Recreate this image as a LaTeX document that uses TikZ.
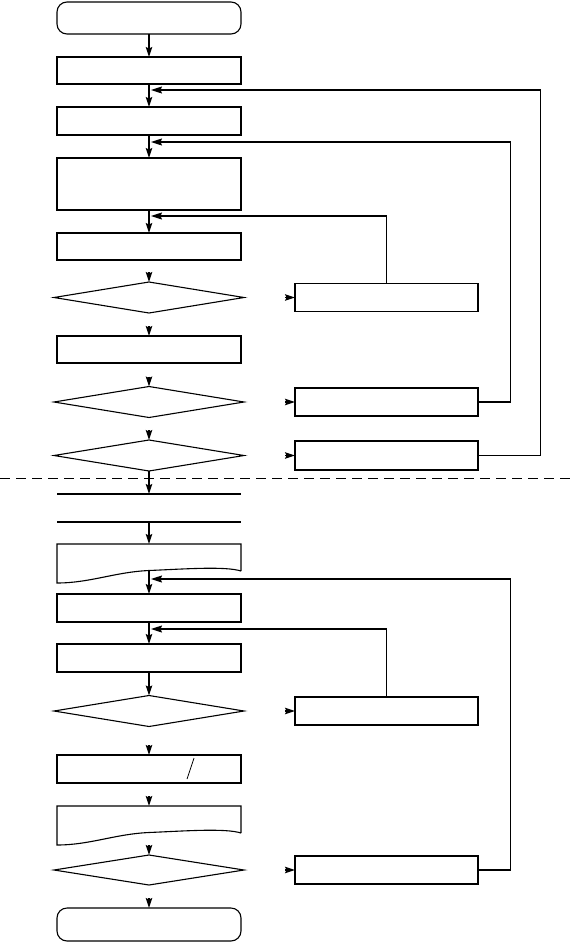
\documentclass[tikz,border=0pt]{standalone}
\usetikzlibrary{shapes.geometric,arrows.meta}
\begin{document}
\begin{tikzpicture}[x=1pt,y=-1pt,
  box/.style={draw,line width=1.1pt,rectangle,minimum width=184pt,inner sep=0pt,outer sep=0pt},
  rbox/.style={draw,line width=1.1pt,rectangle,minimum width=183pt,minimum height=28pt,inner sep=0pt,outer sep=0pt},
  term/.style={box,rounded corners=10pt},
  dia/.style={diamond,draw,line width=1.1pt,minimum width=190pt,minimum height=31pt,inner sep=0pt,outer sep=0pt},
  ghost/.style={rectangle,draw=none,minimum width=184pt,inner sep=0pt,outer sep=0pt},
  tip/.style={-{Stealth[length=10pt,width=6.5pt,inset=1.5pt]}},
  bigtip/.style={-{Stealth[length=11pt,width=7pt,inset=1.5pt]}},
  conn/.style={tip,line width=1.1pt},
  tiponly/.style={tip,line width=1.1pt},
  fb/.style={bigtip,line width=1.2pt},
  shapeline/.style={line width=1.1pt},
  sep/.style={line width=1pt,dash pattern=on 10pt off 6pt}]
\useasboundingbox (0,0) rectangle (570,943);

% main column
\node[term,minimum height=32pt] (start) at (149,18) {};
\node[box,minimum height=27pt] (b1) at (149,70.5) {};
\node[box,minimum height=28pt] (b2) at (149,121) {};
\node[box,minimum height=52pt] (b3) at (149,184) {};
\node[box,minimum height=27pt] (b4) at (149,246.5) {};
\node[dia] (d1) at (149,297.5) {};
\node[box,minimum height=27pt] (b5) at (149,349.5) {};
\node[dia] (d2) at (149,402) {};
\node[dia] (d3) at (149,455.5) {};

% right column
\node[rbox] (ra) at (386.5,297.5) {};
\node[rbox] (rb) at (386.5,402) {};
\node[rbox,minimum height=29pt] (rc) at (386.5,455.5) {};

% separator
\draw[sep] (0,478) -- (570,478);

% storage (two lines)
\node[ghost,minimum height=28pt] (st) at (149,508) {};
\draw[shapeline] (st.north west) -- (st.north east);
\draw[shapeline] (st.south west) -- (st.south east);

% document 1
\node[ghost,minimum height=26.5pt] (doc1) at (149,557.25) {};
\draw[shapeline] (241,571) -- (241,544) -- (57,544) -- (57,583)
  .. controls (90,583) and (115,572) .. (149,570.5)
  .. controls (185,569) and (225,566) .. (241,571);
\coordinate (doc1b) at (149,570.5);

\node[box,minimum height=28pt] (b6) at (149,608) {};
\node[box,minimum height=28pt] (b7) at (149,658) {};
\node[dia] (d4) at (149,711) {};
\node[box,minimum height=28pt] (b8) at (149,769) {};
\draw[line width=0.8pt] (194,758) -- (187,779);

% document 2
\node[ghost,minimum height=26.5pt] (doc2) at (149,819.25) {};
\draw[shapeline] (241,833) -- (241,806) -- (57,806) -- (57,845)
  .. controls (90,845) and (115,834) .. (149,832.5)
  .. controls (185,831) and (225,828) .. (241,833);
\coordinate (doc2b) at (149,832.5);

\node[dia,minimum height=30pt] (d5) at (149,870) {};
\node[term,minimum height=33pt] (fin) at (149,924.5) {};

\node[rbox] (rd) at (386.5,711) {};
\node[rbox] (re) at (386.5,870) {};

% main connectors with lines
\draw[conn] (start) -- (b1);
\draw[conn] (b1) -- (b2);
\draw[conn] (b2) -- (b3);
\draw[conn] (b3) -- (b4);
\draw[conn] (d3.south) -- (st.north);
\draw[conn] (st.south) -- (doc1.north);
\draw[conn] (doc1b) -- (b6.north);
\draw[conn] (b6) -- (b7);
\draw[conn] (b7) -- (d4);

% arrowheads only
\draw[tiponly] ([yshift=10pt]d1.north) -- (d1.north);
\draw[tiponly] ([yshift=10pt]b5.north) -- (b5.north);
\draw[tiponly] ([yshift=10pt]d2.north) -- (d2.north);
\draw[tiponly] ([yshift=10pt]d3.north) -- (d3.north);
\draw[tiponly] ([yshift=10pt]b8.north) -- (b8.north);
\draw[tiponly] ([yshift=10pt]doc2.north) -- (doc2.north);
\draw[tiponly] ([yshift=10pt]d5.north) -- (d5.north);
\draw[tiponly] ([yshift=10pt]fin.north) -- (fin.north);
\draw[tiponly] ([xshift=-10pt]ra.west) -- (ra.west);
\draw[tiponly] ([xshift=-10pt]rb.west) -- (rb.west);
\draw[tiponly] ([xshift=-10pt]rc.west) -- (rc.west);
\draw[tiponly] ([xshift=-10pt]rd.west) -- (rd.west);
\draw[tiponly] ([xshift=-10pt]re.west) -- (re.west);

% feedback loops
\coordinate (j1) at (151,90);
\coordinate (j2) at (151,142);
\coordinate (j3) at (151,216);
\coordinate (j4) at (151,579);
\coordinate (j5) at (151,629);
\coordinate (k1) at (540.7,90);
\coordinate (k2) at (510.7,142);
\coordinate (k4) at (510.7,579);
\draw[fb] (rc.east) -| (k1) -- (j1);
\draw[fb] (rb.east) -| (k2) -- (j2);
\draw[fb] (ra.north) |- (j3);
\draw[fb] (re.east) -| (k4) -- (j4);
\draw[fb] (rd.north) |- (j5);
\end{tikzpicture}
\end{document}
